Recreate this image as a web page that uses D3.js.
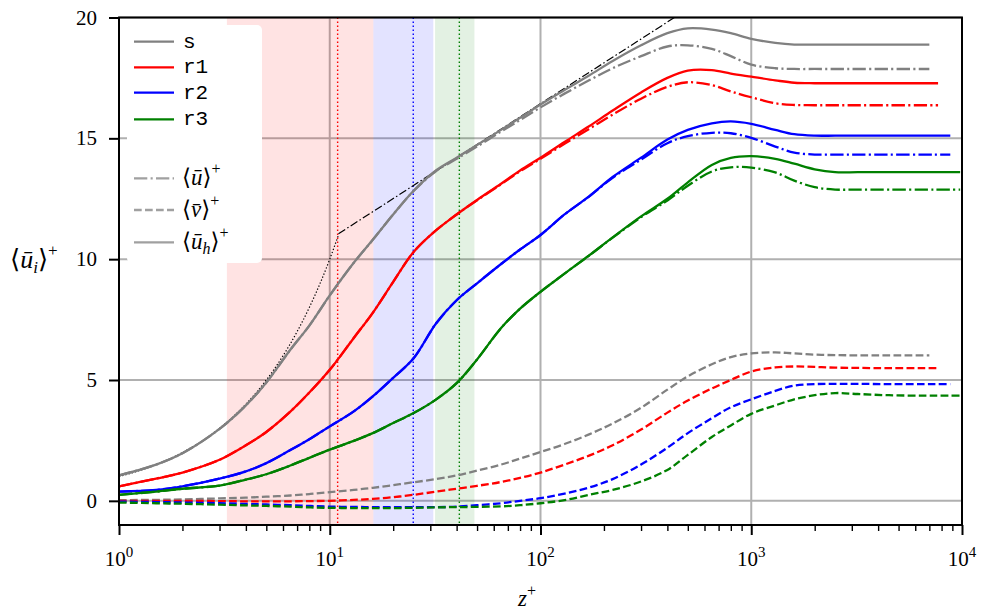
<!DOCTYPE html>
<html>
<head>
<meta charset="utf-8">
<script src="https://cdn.jsdelivr.net/npm/d3@7"></script>
<style>
  html, body { margin: 0; padding: 0; background: #fff; }
  svg { display: block; }
  text { font-family: "Liberation Serif", "DejaVu Serif", serif; fill: #000; }
</style>
</head>
<body>
<svg id="chart" width="983" height="610"></svg>
<script>
// ---------------- DATA ----------------
const zPlus = [1, 1.5, 2, 3, 4, 5, 6.5, 8, 10, 13, 16, 20, 25, 32, 40, 50, 65, 80, 100,
  130, 170, 220, 300, 400, 500, 650, 800, 1000, 1300, 1600, 2000, 2500, 3200, 4500, 7000, 7700, 8800, 9800];

// case s (grey)
const s_uh = [1.05, 1.5, 1.97, 2.98, 3.95, 4.9, 6.25, 7.25, 8.5, 9.85, 10.8, 11.85, 12.83, 13.68, 14.2, 14.72, 15.35, 15.85, 16.4,
  17.0, 17.6, 18.2, 18.85, 19.35, 19.55, 19.5, 19.35, 19.12, 18.95, 18.88, 18.88, 18.88, 18.88, 18.88, 18.88, null, null, null];
const s_u = [1.05, 1.5, 1.97, 2.98, 3.95, 4.9, 6.25, 7.25, 8.5, 9.85, 10.8, 11.85, 12.82, 13.65, 14.15, 14.66, 15.28, 15.76, 16.28,
  16.85, 17.4, 17.9, 18.4, 18.8, 18.85, 18.7, 18.4, 18.05, 17.9, 17.87, 17.87, 17.87, 17.87, 17.87, 17.87, null, null, null];
const s_v = [0.03, 0.04, 0.06, 0.1, 0.13, 0.17, 0.22, 0.28, 0.36, 0.45, 0.54, 0.65, 0.77, 0.9, 1.05, 1.25, 1.5, 1.75, 2.02,
  2.35, 2.75, 3.2, 3.85, 4.6, 5.15, 5.65, 5.95, 6.1, 6.14, 6.1, 6.05, 6.03, 6.02, 6.02, 6.02, null, null, null];

// case r1 (red)
const r1_uh = [0.6, 0.92, 1.17, 1.7, 2.3, 2.85, 3.69, 4.48, 5.42, 6.74, 7.78, 9.06, 10.3, 11.2, 11.85, 12.45, 13.12, 13.67, 14.2,
  14.85, 15.5, 16.15, 16.9, 17.5, 17.8, 17.82, 17.68, 17.55, 17.4, 17.3, 17.28, 17.28, 17.28, 17.28, 17.28, 17.28, null, null];
const r1_u = [0.6, 0.92, 1.17, 1.7, 2.3, 2.85, 3.69, 4.48, 5.42, 6.74, 7.78, 9.06, 10.3, 11.2, 11.85, 12.44, 13.1, 13.64, 14.15,
  14.77, 15.39, 15.98, 16.64, 17.13, 17.32, 17.2, 16.94, 16.7, 16.45, 16.38, 16.37, 16.37, 16.37, 16.37, 16.37, 16.37, null, null];
const r1_v = [0, 0, 0, -0.01, -0.02, -0.02, -0.02, -0.01, 0.0, 0.04, 0.08, 0.15, 0.25, 0.38, 0.5, 0.62, 0.78, 0.95, 1.17,
  1.5, 1.87, 2.3, 2.95, 3.65, 4.15, 4.65, 5.0, 5.35, 5.52, 5.56, 5.54, 5.51, 5.5, 5.49, 5.49, 5.49, null, null];

// case r2 (blue)
const r2_uh = [0.38, 0.45, 0.6, 0.92, 1.22, 1.56, 2.1, 2.55, 3.08, 3.7, 4.32, 5.09, 5.9, 7.35, 8.3, 9.0, 9.8, 10.4, 11.0,
  11.85, 12.6, 13.4, 14.2, 14.95, 15.35, 15.62, 15.7, 15.6, 15.35, 15.17, 15.11, 15.11, 15.11, 15.11, 15.11, 15.11, 15.11, null];
const r2_u = [0.38, 0.45, 0.6, 0.92, 1.22, 1.56, 2.1, 2.55, 3.08, 3.7, 4.32, 5.09, 5.9, 7.35, 8.3, 9.0, 9.8, 10.4, 11.0,
  11.85, 12.59, 13.37, 14.12, 14.8, 15.09, 15.23, 15.21, 15.02, 14.66, 14.41, 14.33, 14.33, 14.33, 14.33, 14.33, 14.33, 14.33, null];
const r2_v = [-0.03, -0.05, -0.07, -0.1, -0.13, -0.15, -0.18, -0.21, -0.24, -0.25, -0.26, -0.26, -0.26, -0.26, -0.24, -0.18, -0.1, 0.0, 0.11,
  0.3, 0.55, 0.9, 1.5, 2.2, 2.8, 3.42, 3.87, 4.2, 4.55, 4.77, 4.83, 4.84, 4.84, 4.83, 4.83, 4.83, 4.83, null];

// case r3 (green)
const r3_uh = [0.25, 0.38, 0.5, 0.63, 0.88, 1.1, 1.46, 1.78, 2.12, 2.48, 2.8, 3.22, 3.63, 4.2, 4.87, 5.85, 7.15, 7.95, 8.65,
  9.4, 10.15, 10.9, 11.77, 12.5, 13.18, 13.9, 14.19, 14.26, 14.15, 13.95, 13.72, 13.6, 13.6, 13.6, 13.6, 13.6, 13.6, 13.6];
const r3_u = [0.25, 0.38, 0.5, 0.63, 0.88, 1.1, 1.46, 1.78, 2.12, 2.48, 2.8, 3.22, 3.63, 4.2, 4.87, 5.85, 7.15, 7.95, 8.65,
  9.4, 10.15, 10.89, 11.74, 12.43, 13.04, 13.63, 13.8, 13.79, 13.59, 13.25, 12.98, 12.88, 12.88, 12.88, 12.88, 12.88, 12.88, 12.88];
const r3_v = [-0.07, -0.1, -0.12, -0.16, -0.19, -0.21, -0.24, -0.27, -0.29, -0.3, -0.3, -0.3, -0.29, -0.27, -0.26, -0.25, -0.23, -0.18, -0.1,
  0.03, 0.25, 0.45, 0.8, 1.28, 1.9, 2.64, 3.12, 3.6, 3.95, 4.2, 4.37, 4.46, 4.42, 4.37, 4.35, 4.35, 4.35, 4.35];

// law of the wall reference lines
const viscZ = [1, 1.5, 2, 3, 4, 5, 6, 7, 8, 9, 10, 11];
const viscU = [1, 1.5, 2, 3, 4, 5, 6, 7, 8, 9, 10, 11];
const logZ = [11, 432];
const logU = [11.05, 20];

// shaded ranges and markers
const spanRanges = [[3.25, 16.1], [16.1, 31], [31.6, 48.6]];
const markerZ = [10.9, 24.9, 41.2];

const caseNames = ["s", "r1", "r2", "r3"];
const caseColors = ["#808080", "#ff0000", "#0000ff", "#008000"];
const spanColors = ["#ff0000", "#0000ff", "#008000"];

const xTicks = [1, 10, 100, 1000, 10000];
const xTickExp = ["0", "1", "2", "3", "4"];
const yTicks = [0, 5, 10, 15, 20];

// ---------------- CHART ----------------
const SERIF = "'Liberation Serif', 'Times New Roman', 'DejaVu Serif', serif";
const MONO = "'Liberation Mono', 'DejaVu Sans Mono', monospace";
const svg = d3.select("#chart");
const L = 119, R = 962, T = 17.5, B = 525;
const x = d3.scaleLog().domain([1, 1e4]).range([L, R]);
const y = d3.scaleLinear().domain([-1, 20]).range([B, T]);

svg.append("defs").append("clipPath").attr("id", "clip")
  .append("rect").attr("x", L).attr("y", T).attr("width", R - L).attr("height", B - T);

// grid
const grid = svg.append("g");
xTicks.forEach(t => grid.append("line").attr("x1", x(t)).attr("x2", x(t)).attr("y1", T).attr("y2", B)
  .attr("stroke", "#b0b0b0").attr("stroke-width", 2));
yTicks.forEach(t => grid.append("line").attr("x1", L).attr("x2", R).attr("y1", y(t)).attr("y2", y(t))
  .attr("stroke", "#b0b0b0").attr("stroke-width", 2));

// shaded spans
spanRanges.forEach((r, i) => svg.append("rect")
  .attr("x", x(r[0])).attr("width", x(r[1]) - x(r[0]))
  .attr("y", T).attr("height", B - T)
  .attr("fill", spanColors[i]).attr("fill-opacity", 0.11));

// vertical dotted markers
markerZ.forEach((m, i) => svg.append("line")
  .attr("x1", x(m)).attr("x2", x(m)).attr("y1", T).attr("y2", B)
  .attr("stroke", spanColors[i]).attr("stroke-width", 1.4).attr("stroke-dasharray", "1.4,2.6"));

const plot = svg.append("g").attr("clip-path", "url(#clip)");

function drawLine(zs, us, color, width, dash, curve) {
  const pts = zs.map((z, i) => [z, us[i]]);
  const line = d3.line()
    .defined(d => d[1] !== null)
    .x(d => x(d[0])).y(d => y(d[1]))
    .curve(curve || d3.curveCatmullRom.alpha(0.5));
  plot.append("path").datum(pts)
    .attr("d", line).attr("fill", "none")
    .attr("stroke", color).attr("stroke-width", width)
    .attr("stroke-dasharray", dash || null)
    .attr("stroke-linejoin", "round");
}

// reference laws
drawLine(viscZ, viscU, "#000", 1.2, "1.3,2", d3.curveMonotoneX);
drawLine(logZ, logU, "#000", 1.2, "8,2.5,1.5,2.5", d3.curveLinear);

const LW = 2.3;
const DASHDOT = "13.3,3.3,2.1,3.3";
const DASHED = "7.7,3.3";
const series = [
  [s_u, s_v, s_uh],
  [r1_u, r1_v, r1_uh],
  [r2_u, r2_v, r2_uh],
  [r3_u, r3_v, r3_uh]
];
series.forEach((s, i) => {
  drawLine(zPlus, s[0], caseColors[i], LW, DASHDOT);
  drawLine(zPlus, s[1], caseColors[i], LW, DASHED);
  drawLine(zPlus, s[2], caseColors[i], LW, null);
});

// axes frame
svg.append("rect").attr("x", L).attr("y", T).attr("width", R - L).attr("height", B - T)
  .attr("fill", "none").attr("stroke", "#000").attr("stroke-width", 2);

// x axis ticks
const minor = [];
for (let d = 1; d < 1e4; d *= 10) for (let k = 2; k <= 9; k++) minor.push(d * k);
const xAxisMajor = d3.axisBottom(x).tickValues(xTicks).tickSize(10).tickFormat("");
const xAxisMinor = d3.axisBottom(x).tickValues(minor).tickSize(6).tickFormat("");
const gxM = svg.append("g").attr("transform", `translate(0,${B})`).call(xAxisMajor);
const gxm = svg.append("g").attr("transform", `translate(0,${B})`).call(xAxisMinor);
[gxM, gxm].forEach(g => g.select(".domain").remove());
gxM.selectAll("line").attr("stroke", "#000").attr("stroke-width", 2);
gxm.selectAll("line").attr("stroke", "#000").attr("stroke-width", 1.4);

xTicks.forEach((t, i) => {
  const tx = svg.append("text").attr("x", x(t)).attr("y", 566)
    .attr("text-anchor", "middle").style("font-family", SERIF).style("font-size", "21px");
  tx.append("tspan").text("10");
  tx.append("tspan").attr("dy", -9).style("font-size", "15px").text(xTickExp[i]);
});

// y axis ticks
const yAxis = d3.axisLeft(y).tickValues(yTicks).tickSize(10).tickFormat("");
const gy = svg.append("g").attr("transform", `translate(${L},0)`).call(yAxis);
gy.select(".domain").remove();
gy.selectAll("line").attr("stroke", "#000").attr("stroke-width", 2);
yTicks.forEach(t => svg.append("text").attr("x", 97).attr("y", y(t) + 7)
  .attr("text-anchor", "end").style("font-family", SERIF).style("font-size", "21px").text(t));

// axis labels
const xl = svg.append("text").attr("x", 527).attr("y", 606).attr("text-anchor", "middle")
  .style("font-family", SERIF).style("font-size", "23px");
xl.append("tspan").style("font-style", "italic").text("z");
xl.append("tspan").attr("dy", -10).style("font-size", "16px").text("+");

const yl = svg.append("text").attr("x", 10).attr("y", 268).style("font-family", SERIF).style("font-size", "26px");
yl.append("tspan").text("⟨");
yl.append("tspan").style("font-style", "italic").text("ū");
yl.append("tspan").attr("dy", 5).style("font-style", "italic").style("font-size", "17px").text("i");
yl.append("tspan").attr("dy", -5).text("⟩");
yl.append("tspan").attr("dy", -12).style("font-size", "17px").text("+");

// legend
const lg = svg.append("g");
lg.append("rect").attr("x", 127).attr("y", 25).attr("width", 135).attr("height", 238)
  .attr("rx", 5).attr("fill", "#fff");
const rowsY = [41.7, 67.3, 92.7, 119.3];
caseNames.forEach((n, i) => {
  lg.append("line").attr("x1", 134).attr("x2", 174).attr("y1", rowsY[i]).attr("y2", rowsY[i])
    .attr("stroke", caseColors[i]).attr("stroke-width", LW);
  lg.append("text").attr("x", 183).attr("y", rowsY[i] + 6)
    .style("font-family", MONO).style("font-size", "21px").text(n);
});
const compY = [178.3, 210, 242.3];
const compDash = [DASHDOT, DASHED, null];
compY.forEach((yy, i) => {
  lg.append("line").attr("x1", 134).attr("x2", 174).attr("y1", yy).attr("y2", yy)
    .attr("stroke", "#a0a0a0").attr("stroke-width", LW)
    .attr("stroke-dasharray", compDash[i]);
});
function mathLabel(yy, base, sub) {
  const t = lg.append("text").attr("x", 182).attr("y", yy + 7)
    .style("font-family", SERIF).style("font-size", "23px");
  t.append("tspan").text("⟨");
  t.append("tspan").style("font-style", "italic").text(base);
  if (sub) {
    t.append("tspan").attr("dy", 5).style("font-style", "italic").style("font-size", "16px").text(sub);
    t.append("tspan").attr("dy", -5).text("⟩");
  } else {
    t.append("tspan").text("⟩");
  }
  t.append("tspan").attr("dy", -11).style("font-size", "16px").text("+");
}
mathLabel(compY[0], "ū", null);
mathLabel(compY[1], "v\u0304", null);
mathLabel(compY[2], "ū", "h");
</script>
</body>
</html>
